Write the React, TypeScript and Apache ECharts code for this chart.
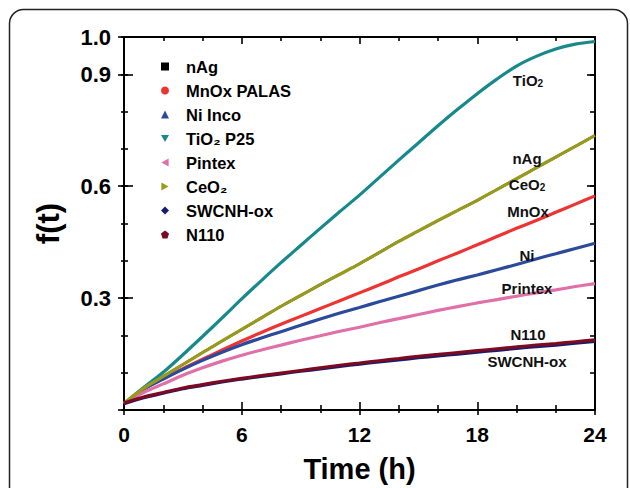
import React, { useEffect, useRef } from "react";
import * as echarts from "echarts";

const times = [0, 1, 2, 3, 4, 5, 6, 7, 8, 9, 10, 11, 12, 13, 14, 15, 16, 17, 18, 19, 20, 21, 22, 23, 24];
const nAg = [0.018, 0.058, 0.09, 0.122, 0.154, 0.185, 0.216, 0.247, 0.278, 0.307, 0.336, 0.364, 0.392, 0.422, 0.452, 0.48, 0.508, 0.535, 0.562, 0.591, 0.62, 0.649, 0.678, 0.707, 0.736];
const mnox = [0.017, 0.057, 0.084, 0.111, 0.136, 0.161, 0.185, 0.208, 0.23, 0.251, 0.272, 0.293, 0.314, 0.335, 0.357, 0.378, 0.4, 0.421, 0.443, 0.465, 0.487, 0.508, 0.53, 0.552, 0.574];
const ni = [0.017, 0.056, 0.083, 0.109, 0.133, 0.155, 0.175, 0.193, 0.21, 0.227, 0.244, 0.26, 0.275, 0.29, 0.305, 0.32, 0.335, 0.349, 0.362, 0.376, 0.39, 0.405, 0.419, 0.433, 0.447];
const tio2 = [0.017, 0.06, 0.101, 0.148, 0.197, 0.247, 0.298, 0.347, 0.395, 0.441, 0.487, 0.532, 0.576, 0.623, 0.67, 0.716, 0.762, 0.806, 0.848, 0.887, 0.922, 0.948, 0.968, 0.981, 0.988];
const pintex = [0.017, 0.047, 0.07, 0.093, 0.113, 0.131, 0.147, 0.161, 0.174, 0.187, 0.199, 0.211, 0.222, 0.234, 0.245, 0.256, 0.267, 0.277, 0.287, 0.296, 0.305, 0.314, 0.322, 0.331, 0.339];
const ceo2 = [0.018, 0.058, 0.09, 0.122, 0.154, 0.185, 0.216, 0.247, 0.278, 0.307, 0.336, 0.364, 0.392, 0.422, 0.452, 0.48, 0.508, 0.535, 0.562, 0.591, 0.62, 0.649, 0.678, 0.707, 0.736];
const swcnh = [0.017, 0.033, 0.045, 0.057, 0.066, 0.075, 0.083, 0.09, 0.097, 0.104, 0.11, 0.117, 0.123, 0.129, 0.134, 0.14, 0.145, 0.15, 0.155, 0.16, 0.165, 0.17, 0.174, 0.179, 0.184];
const n110 = [0.019, 0.035, 0.047, 0.059, 0.068, 0.077, 0.085, 0.092, 0.099, 0.106, 0.113, 0.12, 0.126, 0.132, 0.138, 0.144, 0.149, 0.154, 0.159, 0.164, 0.169, 0.174, 0.178, 0.183, 0.188];

const seriesNames = ["nAg", "MnOx PALAS", "Ni Inco", "TiO\u2082 P25", "Pintex", "CeO\u2082", "SWCNH-ox", "N110"];
const seriesValues = [nAg, mnox, ni, tio2, pintex, ceo2, swcnh, n110];
const seriesColors = ["#000000", "#ee3333", "#2b4a9c", "#17898c", "#e070a8", "#989a1e", "#161c6e", "#7e0a22"];
const seriesWidths = [2.4, 3.2, 3.2, 3.2, 3.2, 3.2, 3.2, 3.2];
const legendIcons = [
  "rect",
  "circle",
  "triangle",
  "path://M0,0L10,0L5,9Z",
  "path://M9,0L9,10L0,5Z",
  "path://M0,0L0,10L9,5Z",
  "diamond",
  "path://M5,0L10,3.8L8.1,10L1.9,10L0,3.8Z",
];

const xTicks = { min: 0, max: 24, major: 6 };
const yTicks = { min: 0, max: 1, major: 0.3, minor: 0.1 };

const annotations = [
  { text: "{a|TiO}{s|2}", x: 528, y: 80 },
  { text: "{a|nAg}", x: 527, y: 158 },
  { text: "{a|CeO}{s|2}", x: 527, y: 184 },
  { text: "{a|MnOx}", x: 528, y: 211 },
  { text: "{a|Ni}", x: 527, y: 255 },
  { text: "{a|Printex}", x: 527, y: 288 },
  { text: "{a|N110}", x: 528, y: 334 },
  { text: "{a|SWCNH-ox}", x: 527, y: 361 },
];

const FONT = "'Liberation Sans', Arial, 'DejaVu Sans', sans-serif";

export default function App() {
  const ref = useRef<HTMLDivElement>(null);
  useEffect(() => {
    if (!ref.current) return;
    const chart = echarts.init(ref.current, undefined, { renderer: "svg" });
    const axisLineStyle = { color: "#000", width: 2 };
    const tickStyle = { color: "#000", width: 1.6 };
    const baseX = {
      type: "value",
      min: xTicks.min,
      max: xTicks.max,
      interval: xTicks.major,
      splitLine: { show: false },
    };
    const baseY = {
      type: "value",
      min: yTicks.min,
      max: yTicks.max,
      splitLine: { show: false },
    };
    const option: any = {
      animation: false,
      backgroundColor: "#fff",
      grid: { left: 124, top: 37, right: 35, bottom: 74, containLabel: false },
      xAxis: [
        {
          ...baseX,
          position: "bottom",
          axisLine: { show: true, onZero: false, lineStyle: axisLineStyle },
          axisTick: { show: true, inside: true, length: 8, lineStyle: tickStyle },
          minorTick: { show: true, splitNumber: 3, length: 5, lineStyle: tickStyle },
          axisLabel: { fontSize: 21, fontWeight: "bold", color: "#000", fontFamily: FONT, margin: 14 },
          name: "Time (h)",
          nameLocation: "middle",
          nameGap: 44,
          nameTextStyle: { fontSize: 29, fontWeight: "bold", color: "#000", fontFamily: FONT },
        },
        {
          ...baseX,
          position: "bottom",
          axisLine: { show: false, onZero: false },
          axisTick: { show: true, inside: false, length: 5, lineStyle: tickStyle },
          minorTick: { show: true, splitNumber: 3, length: 3, lineStyle: tickStyle },
          axisLabel: { show: false },
        },
        {
          ...baseX,
          position: "top",
          axisLine: { show: true, onZero: false, lineStyle: axisLineStyle },
          axisTick: { show: true, inside: true, length: 7, lineStyle: tickStyle },
          minorTick: { show: true, splitNumber: 3, length: 4, lineStyle: tickStyle },
          axisLabel: { show: false },
        },
      ],
      yAxis: [
        {
          ...baseY,
          interval: yTicks.major,
          position: "left",
          axisLine: { show: true, onZero: false, lineStyle: axisLineStyle },
          axisTick: { show: true, inside: true, length: 9, lineStyle: tickStyle },
          axisLabel: {
            fontSize: 22,
            fontWeight: "bold",
            color: "#000",
            fontFamily: FONT,
            margin: 13,
            formatter: (v: number) => (v === 0 ? "" : v.toFixed(1)),
          },
          name: "f(t)",
          nameLocation: "middle",
          nameGap: 60,
          nameTextStyle: { fontSize: 31, fontWeight: "bold", color: "#000", fontFamily: FONT },
        },
        {
          ...baseY,
          interval: yTicks.major,
          position: "left",
          axisLine: { show: false, onZero: false },
          axisTick: { show: true, inside: false, length: 6, lineStyle: tickStyle },
          axisLabel: { show: false },
        },
        {
          ...baseY,
          interval: yTicks.minor,
          position: "left",
          axisLine: { show: false, onZero: false },
          axisTick: { show: true, inside: true, length: 4, lineStyle: tickStyle },
          axisLabel: { show: false },
        },
        {
          ...baseY,
          interval: yTicks.minor,
          position: "left",
          axisLine: { show: false, onZero: false },
          axisTick: { show: true, inside: false, length: 3, lineStyle: tickStyle },
          axisLabel: { show: false },
        },
        {
          ...baseY,
          interval: yTicks.major,
          position: "right",
          axisLine: { show: true, onZero: false, lineStyle: axisLineStyle },
          axisTick: { show: true, inside: true, length: 8, lineStyle: tickStyle },
          axisLabel: { show: false },
        },
        {
          ...baseY,
          interval: yTicks.minor,
          position: "right",
          axisLine: { show: false, onZero: false },
          axisTick: { show: true, inside: true, length: 5, lineStyle: tickStyle },
          axisLabel: { show: false },
        },
      ],
      legend: {
        orient: "vertical",
        left: 156,
        top: 53,
        itemWidth: 8,
        itemHeight: 8,
        itemGap: 7,
        textStyle: { fontSize: 16.5, fontWeight: "bold", color: "#000", fontFamily: FONT, padding: [0, 0, 0, 12] },
        data: seriesNames.map((n, i) => ({ name: n, icon: legendIcons[i] })),
      },
      series: seriesNames.map((name, i) => ({
        name,
        type: "line",
        xAxisIndex: 0,
        yAxisIndex: 0,
        smooth: 0.3,
        showSymbol: false,
        symbol: "none",
        color: seriesColors[i],
        itemStyle: { color: seriesColors[i] },
        lineStyle: { color: seriesColors[i], width: seriesWidths[i] },
        data: times.map((t, j) => [t, seriesValues[i][j]]),
      })),
      graphic: [
        {
          type: "rect",
          shape: { x: 9.5, y: 9.5, width: 618, height: 560, r: 14 },
          style: { fill: "none", stroke: "#222", lineWidth: 1.5 },
          silent: true,
        },
        ...annotations.map((a) => ({
          type: "text",
          x: a.x,
          y: a.y,
          style: {
            text: a.text,
            align: "center",
            verticalAlign: "middle",
            rich: {
              a: { fontSize: 15, fontWeight: "bold", fontFamily: FONT, fill: "#111" },
              s: { fontSize: 10, fontWeight: "bold", fontFamily: FONT, fill: "#111", verticalAlign: "bottom", padding: [6, 0, 0, 0] },
            },
          },
          z: 10,
        })),
      ],
    };
    chart.setOption(option);
    return () => chart.dispose();
  }, []);
  return (
    <div
      ref={ref}
      style={{ position: "absolute", left: 0, top: 0, width: 630, height: 488 }}
    />
  );
}
